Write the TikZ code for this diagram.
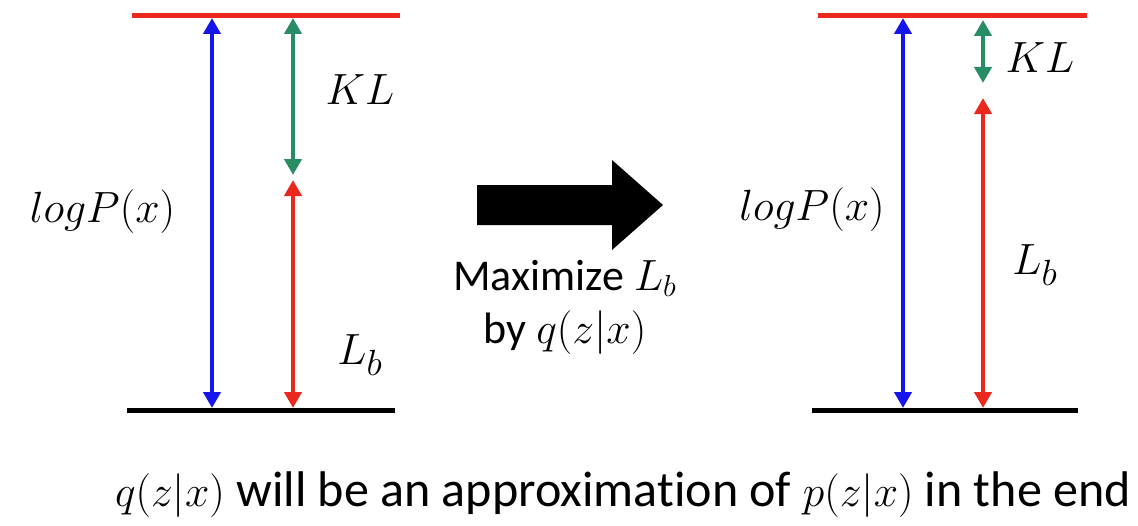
\documentclass[tikz,border=0pt]{standalone}
\usepackage{amsmath}
\usepackage{fontspec}
\setmainfont[Ligatures=NoCommon]{Carlito}
\usepackage{tikz}
\usetikzlibrary{positioning, arrows.meta, calc}
\definecolor{klgreen}{RGB}{40,140,100}
\definecolor{lbred}{RGB}{235,40,30}
\definecolor{lpblue}{RGB}{20,20,235}

\begin{document}
\begin{tikzpicture}[x=1cm, y=1cm,
    every node/.style={font=\fontsize{25}{30}\selectfont, inner sep=1pt},
    mlabel/.style={font=\fontsize{28}{33}\selectfont},
    level/.style={line width=0.1cm},
    gap/.style={line width=0.08cm, {Triangle[width=0.34cm, length=0.32cm]}-{Triangle[width=0.34cm, length=0.32cm]}}]

        \useasboundingbox (0,0) rectangle (22.76,10.5);

        % Left: levels
        \coordinate (ltopA) at (2.64, 10.18);
        \coordinate (ltopB) at (8.0, 10.18);
        \coordinate (lbotA) at (2.54, 2.3);
        \coordinate (lbotB) at (7.9, 2.3);
        \draw[level, lbred] (ltopA) -- (ltopB);
        \draw[level] (lbotA) -- (lbotB);

        % Left: arrows
        \coordinate (lpT) at (4.24, 10.14);
        \coordinate (lpB) at (4.24, 2.34);
        \coordinate (lkT) at (5.86, 10.14);
        \coordinate (lkB) at (5.86, 7.0);
        \coordinate (llT) at (5.86, 6.9);
        \coordinate (llB) at (5.86, 2.34);
        \draw[gap, lpblue] (lpB) -- (lpT);
        \draw[gap, klgreen] (lkB) -- (lkT);
        \draw[gap, lbred] (llB) -- (llT);

        % Left: labels
        \node[mlabel] (lkl) at (7.2, 8.7) {$KL$};
        \node[mlabel] (llogp) at (2.05, 6.26) {$logP(x)$};
        \node[mlabel] (llb) at (7.2, 3.4) {$L_b$};

        % Middle: big arrow
        \fill (9.54, 6.8) -- (12.24, 6.8) -- (12.24, 7.3) -- (13.26, 6.4)
            -- (12.24, 5.5) -- (12.24, 6.0) -- (9.54, 6.0) -- cycle;
        \node[align=center, font=\fontsize{25}{30}\selectfont] (maxi) at (11.3, 4.36) {Maximize $L_b$\\ by $q(z|x)$};

        % Right: levels
        \coordinate (rtopA) at (16.36, 10.18);
        \coordinate (rtopB) at (21.74, 10.18);
        \coordinate (rbotA) at (16.24, 2.3);
        \coordinate (rbotB) at (21.56, 2.3);
        \draw[level, lbred] (rtopA) -- (rtopB);
        \draw[level] (rbotA) -- (rbotB);

        % Right: arrows
        \coordinate (rpT) at (18.06, 10.14);
        \coordinate (rpB) at (18.06, 2.34);
        \coordinate (rkT) at (19.66, 10.1);
        \coordinate (rkB) at (19.66, 8.84);
        \coordinate (rlT) at (19.66, 8.54);
        \coordinate (rlB) at (19.66, 2.34);
        \draw[gap, lpblue] (rpB) -- (rpT);
        \draw[gap, klgreen] (rkB) -- (rkT);
        \draw[gap, lbred] (rlB) -- (rlT);

        % Right: labels
        \node[mlabel] (rkl) at (20.8, 9.34) {$KL$};
        \node[mlabel] (rlogp) at (16.24, 6.3) {$logP(x)$};
        \node[mlabel] (rlb) at (20.7, 5.2) {$L_b$};

        % Bottom note
        \node[font=\fontsize{28.5}{34}\selectfont] (note) at (12.46, 0.6) {$q(z|x)$ will be an approximation of $p(z|x)$ in the end};
    \end{tikzpicture}
\end{document}
